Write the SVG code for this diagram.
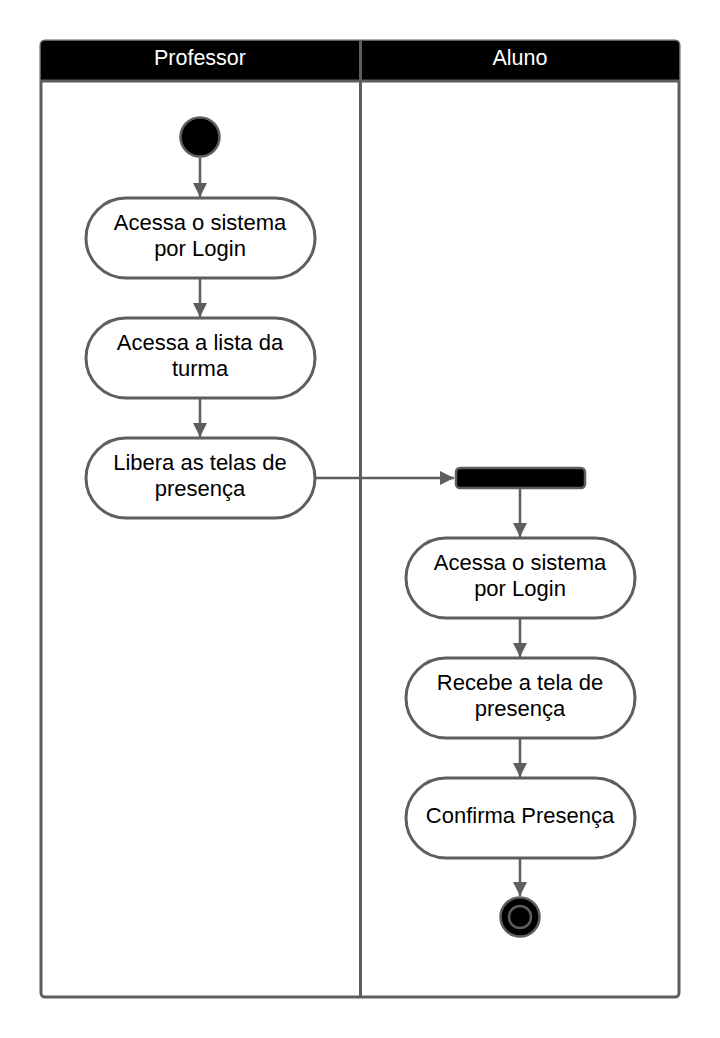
<svg xmlns="http://www.w3.org/2000/svg" width="720" height="1038" viewBox="0 0 720 1038">
<style>
.ln{stroke:#5e5e5e;stroke-width:3;fill:none}
.act{fill:#fff;stroke:#5e5e5e;stroke-width:3}
.t{font-family:"Liberation Sans",Arial,sans-serif;font-size:22px;fill:#000;text-anchor:middle}
.h{font-family:"Liberation Sans",Arial,sans-serif;font-size:21.5px;fill:#fff;text-anchor:middle}
.c{stroke:#5e5e5e;stroke-width:2.5;fill:none}
</style>
<defs>
<marker id="a" viewBox="0 0 12 14" refX="14" refY="7" markerWidth="12" markerHeight="14" markerUnits="userSpaceOnUse" orient="auto">
<path d="M0,0 L14,7 L0,14 z" fill="#5e5e5e"/>
</marker>
</defs>
<rect width="720" height="1038" fill="#fff"/>
<g id="pool">
<rect x="41" y="41" width="638" height="956" rx="4" fill="#fff" stroke="#5e5e5e" stroke-width="3"/>
<path d="M41,81 V45 a4,4 0 0 1 4,-4 H675 a4,4 0 0 1 4,4 V81 Z" fill="#000"/>
<line x1="41" y1="81" x2="679" y2="81" class="ln"/>
<line x1="360.5" y1="41" x2="360.5" y2="997" class="ln"/>
<text x="200" y="64.5" class="h">Professor</text>
<text x="520" y="64.5" class="h">Aluno</text>
</g>
<g id="connectors">
<line x1="200" y1="158" x2="200" y2="197" class="c" marker-end="url(#a)"/>
<line x1="200" y1="279" x2="200" y2="317" class="c" marker-end="url(#a)"/>
<line x1="200" y1="399" x2="200" y2="437" class="c" marker-end="url(#a)"/>
<line x1="316" y1="478" x2="454" y2="478" class="c" marker-end="url(#a)"/>
<line x1="520" y1="489" x2="520" y2="537" class="c" marker-end="url(#a)"/>
<line x1="520" y1="619" x2="520" y2="657" class="c" marker-end="url(#a)"/>
<line x1="520" y1="739" x2="520" y2="777" class="c" marker-end="url(#a)"/>
<line x1="520" y1="859" x2="520" y2="896" class="c" marker-end="url(#a)"/>
</g>
<g id="start">
<circle cx="200" cy="137" r="19.5" fill="#000" stroke="#5e5e5e" stroke-width="2.5"/>
</g>
<g id="p1">
<rect x="86" y="198" width="229" height="80" rx="40" class="act"/>
<text x="200" y="230" class="t">Acessa o sistema</text>
<text x="200" y="256" class="t">por Login</text>
</g>
<g id="p2">
<rect x="86" y="318" width="229" height="80" rx="40" class="act"/>
<text x="200" y="350" class="t">Acessa a lista da</text>
<text x="200" y="376" class="t">turma</text>
</g>
<g id="p3">
<rect x="86" y="438" width="229" height="80" rx="40" class="act"/>
<text x="200" y="470" class="t">Libera as telas de</text>
<text x="200" y="496" class="t">presença</text>
</g>
<g id="fork">
<rect x="456" y="468" width="129" height="20" rx="4" fill="#000" stroke="#5e5e5e" stroke-width="2.5"/>
</g>
<g id="a1">
<rect x="406" y="538" width="229" height="80" rx="40" class="act"/>
<text x="520" y="570" class="t">Acessa o sistema</text>
<text x="520" y="596" class="t">por Login</text>
</g>
<g id="a2">
<rect x="406" y="658" width="229" height="80" rx="40" class="act"/>
<text x="520" y="690" class="t">Recebe a tela de</text>
<text x="520" y="716" class="t">presença</text>
</g>
<g id="a3">
<rect x="406" y="778" width="229" height="80" rx="40" class="act"/>
<text x="520" y="823" class="t">Confirma Presença</text>
</g>
<g id="end">
<circle cx="520" cy="917" r="19.5" fill="#000" stroke="#5e5e5e" stroke-width="2.5"/>
<circle cx="520" cy="917" r="11" fill="#000" stroke="#5e5e5e" stroke-width="2.5"/>
</g>
</svg>
